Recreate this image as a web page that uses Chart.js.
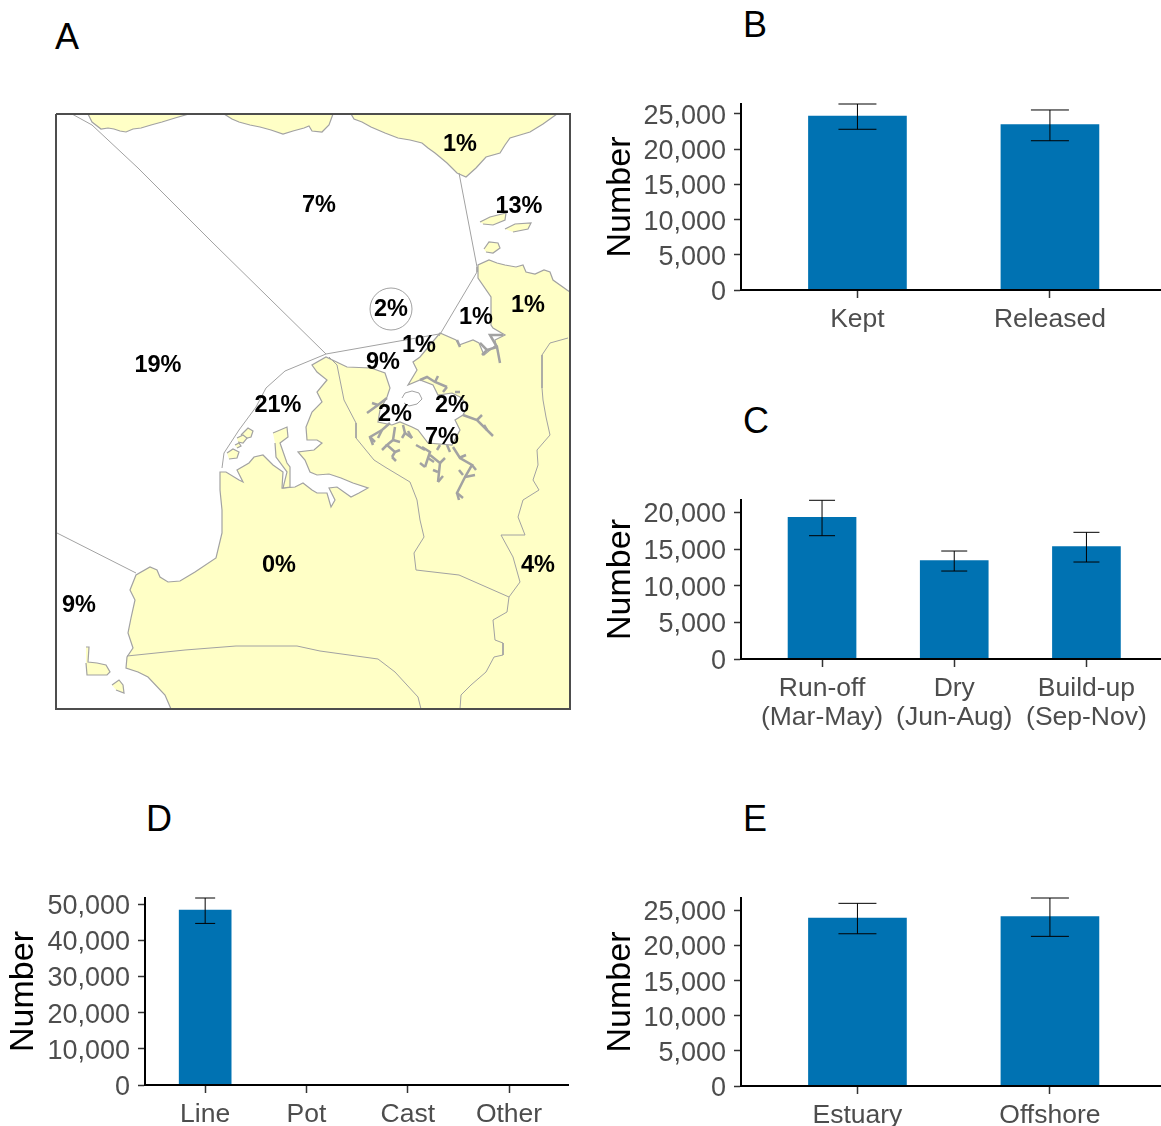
<!DOCTYPE html>
<html>
<head>
<meta charset="utf-8">
<script src="https://cdn.jsdelivr.net/npm/chart.js@4/dist/chart.umd.min.js"></script>
<style>
  html, body { margin: 0; padding: 0; background: #fff; }
  body { position: relative; width: 1161px; height: 1126px; overflow: hidden; }
  canvas { position: absolute; }
  .letter { position: absolute; font: 36px/36px "Liberation Sans", Arial, sans-serif; color: #000; }
</style>
</head>
<body>
<div class="letter" style="left:55px;top:19px">A</div>
<div class="letter" style="left:743px;top:7px">B</div>
<div class="letter" style="left:743px;top:403px">C</div>
<div class="letter" style="left:146px;top:801px">D</div>
<div class="letter" style="left:743px;top:801px">E</div>

<canvas id="mapA" width="526" height="607" style="left:50px;top:108px"></canvas>
<canvas id="barB" width="561" height="250" style="left:600px;top:95px"></canvas>
<canvas id="barC" width="561" height="250" style="left:600px;top:490px"></canvas>
<canvas id="barD" width="569" height="241" style="left:0;top:885px"></canvas>
<canvas id="barE" width="561" height="241" style="left:600px;top:885px"></canvas>

<script>
// panel B - fate
const fateCats = ["Kept", "Released"];
const fateVals = [24700, 23480];
const fateHi = [26420, 25570];
const fateLo = [22830, 21200];
const fateTicks = [0, 5000, 10000, 15000, 20000, 25000];

// panel C - season
const seasonCats = [["Run-off", "(Mar-May)"], ["Dry", "(Jun-Aug)"], ["Build-up", "(Sep-Nov)"]];
const seasonVals = [19330, 13410, 15320];
const seasonHi = [21650, 14730, 17280];
const seasonLo = [16820, 12000, 13230];
const seasonTicks = [0, 5000, 10000, 15000, 20000];

// panel D - gear
const gearCats = ["Line", "Pot", "Cast", "Other"];
const gearVals = [48340, 0, 0, 0];
const gearHi = [51660, 0, 0, 0];
const gearLo = [44640, 0, 0, 0];
const gearTicks = [0, 10000, 20000, 30000, 40000, 50000];

// panel E - area
const areaCats = ["Estuary", "Offshore"];
const areaVals = [23910, 24100];
const areaHi = [26000, 26760];
const areaLo = [21670, 21300];
const areaTicks = [0, 5000, 10000, 15000, 20000, 25000];

// panel A - map in map units
const mapPctText = ["1%", "7%", "13%", "2%", "1%", "1%", "1%", "9%", "19%", "21%", "2%", "2%", "7%", "0%", "4%", "9%"];
const mapPctX = [460, 319, 519, 391, 476, 528, 419, 383, 158, 278, 395, 452, 442, 279, 538, 79];
const mapPctY = [145, 206, 207, 310, 318, 306, 346, 363, 366, 406, 415, 406, 438, 566, 566, 606];

const landMain = [[171,709],[165,695],[148,677],[138,672],[126,668],[127,657],[133,648],[128,633],[131,618],[135,600],[130,590],[136,575],[150,567],[157,570],[160,577],[168,582],[180,581],[195,572],[216,558],[222,533],[222,510],[220,490],[220,472],[226,472],[239,480],[243,482],[237,470],[249,463],[254,457],[263,455],[273,465],[283,472],[282,488],[295,487],[303,483],[312,490],[317,493],[327,493],[331,507],[335,500],[329,488],[337,487],[351,497],[359,493],[368,488],[353,483],[341,478],[329,474],[317,475],[310,472],[305,460],[298,452],[314,450],[322,443],[317,440],[307,440],[306,427],[312,412],[322,402],[317,392],[327,380],[317,372],[312,365],[326,357],[347,367],[371,368],[385,373],[390,388],[387,397],[380,410],[378,422],[392,425],[400,422],[412,427],[418,430],[428,443],[452,445],[460,430],[455,420],[463,415],[468,405],[460,397],[452,393],[438,395],[433,385],[420,380],[408,385],[417,370],[413,362],[420,357],[440,333],[456,340],[459,345],[473,340],[479,343],[484,355],[496,345],[495,340],[505,335],[493,328],[491,325],[491,297],[478,278],[478,265],[489,260],[497,263],[505,265],[516,267],[523,265],[526,272],[535,274],[544,270],[550,272],[553,280],[567,290],[570,292],[570,709]];
const landNorthA = [[88,114],[92,122],[101,129],[108,128],[114,129],[120,131],[126,132],[133,129],[141,128],[151,125],[162,122],[175,118],[189,114]];
const landNorthB = [[224,114],[232,119],[239,122],[250,125],[260,127],[271,130],[283,134],[293,131],[304,128],[309,126],[312,131],[322,132],[329,125],[333,114]];
const landNorthC = [[351,114],[354,119],[362,122],[371,127],[385,133],[398,138],[410,140],[422,143],[428,148],[435,153],[447,163],[457,173],[466,177],[476,168],[486,157],[500,153],[505,145],[510,138],[520,135],[530,132],[543,124],[557,114]];
const islandsYellow = [
  [[480,222],[490,217],[506,213],[505,220],[493,225],[483,224]],
  [[505,229],[515,224],[531,223],[528,229],[513,232]],
  [[484,249],[489,242],[498,243],[500,248],[493,253],[486,252]],
  [[241,435],[248,428],[253,431],[251,437],[244,439]],
  [[237,438],[243,435],[247,438],[243,443],[238,442]],
  [[235,445],[239,443],[241,446],[237,448]],
  [[227,453],[233,449],[239,452],[237,458],[229,459]],
  [[273,433],[287,427],[288,437],[280,443],[287,463],[290,467],[290,487],[283,488],[287,472],[276,457],[275,443]],
  [[86,647],[89,647],[88,662],[97,663],[106,665],[110,672],[107,675],[87,675],[86,663]],
  [[112,685],[119,680],[123,685],[124,693],[116,690]]
];
const harbourIsle = [[402,398],[405,393],[412,391],[419,393],[422,399],[417,404],[409,406],[404,403]];
const regionLines = [
  [[72,114],[92,125],[138,168],[212,242],[326,354]],
  [[459,173],[477,267],[477,272],[439,336]],
  [[439,334],[326,354],[285,371],[266,388],[256,407],[239,430],[224,453],[222,468]],
  [[57,533],[136,573]],
  [[127,656],[185,650],[236,646],[297,646],[320,651],[378,659],[395,672],[418,697],[421,709]],
  [[329,357],[337,365],[344,400],[356,423],[356,438],[374,460],[385,467],[410,482],[417,500],[420,520],[424,537],[414,553],[416,570],[459,575],[509,597]],
  [[568,338],[550,343],[542,355],[542,388],[543,400],[546,417],[550,435],[537,450],[538,465],[533,480],[539,490],[523,500],[518,517],[525,535],[501,535],[513,557],[520,582],[509,597],[507,612],[493,620],[495,640],[503,643],[503,655],[494,657],[486,672],[471,685],[461,695],[460,709]]
];
const creeks = [
  [[387,398],[378,405],[367,413]],
  [[378,405],[372,403]],
  [[390,423],[382,430],[370,437],[373,445]],
  [[382,430],[378,438]],
  [[370,437],[375,442]],
  [[395,427],[393,440],[387,445],[395,452],[392,457]],
  [[393,440],[400,442]],
  [[387,445],[382,450]],
  [[395,452],[400,450]],
  [[392,457],[396,461]],
  [[403,425],[405,433],[412,438]],
  [[405,433],[402,438]],
  [[412,438],[408,431]],
  [[422,447],[430,452],[428,458],[425,467]],
  [[416,445],[425,450]],
  [[428,458],[434,462]],
  [[425,467],[420,463]],
  [[430,455],[440,463],[438,482]],
  [[440,463],[445,458]],
  [[438,472],[433,470]],
  [[438,482],[443,476]],
  [[453,447],[460,458],[472,465],[465,477],[457,493],[463,498]],
  [[459,458],[466,455]],
  [[463,475],[459,470]],
  [[472,465],[476,470]],
  [[457,493],[459,500]],
  [[465,477],[475,475]],
  [[463,415],[477,420],[487,430],[493,436]],
  [[477,420],[482,415]],
  [[487,430],[484,425]],
  [[420,380],[427,377],[435,382],[447,387]],
  [[435,382],[438,376]],
  [[447,387],[443,392]],
  [[455,392],[460,392]],
  [[440,445],[437,450]],
  [[447,445],[450,452]],
  [[457,340],[460,347]],
  [[480,343],[487,350],[482,355]],
  [[487,350],[497,347],[500,363]],
  [[497,347],[490,335],[503,335]]
];
const mapFrame = [[56,114],[570,114],[570,709],[56,709],[56,114]];
const circleZone = [[391, 309]];

const FONT = '"Liberation Sans", Arial, sans-serif';
const toXY = pts => pts.map(p => ({ x: p[0], y: p[1] }));

// percent labels on the map
const pctLabels = {
  id: "pctLabels",
  afterDatasetsDraw(chart) {
    const { ctx, scales } = chart;
    ctx.save();
    ctx.font = "bold 23.5px " + FONT;
    ctx.fillStyle = "#000";
    ctx.textAlign = "center";
    ctx.textBaseline = "middle";
    mapPctText.forEach((t, i) => {
      ctx.fillText(t, scales.x.getPixelForValue(mapPctX[i]), scales.y.getPixelForValue(mapPctY[i]));
    });
    ctx.restore();
  }
};

const GREY = "#a2a2a2";
const LAND = "#ffffc6";
const mapSets = [];
function shape(pts, bg, bw) {
  mapSets.push({ data: toXY(pts), showLine: true, fill: "shape", backgroundColor: bg, borderColor: GREY, borderWidth: bw, pointRadius: 0 });
}
function path(pts, color, bw) {
  mapSets.push({ data: toXY(pts), showLine: true, fill: false, borderColor: color, borderWidth: bw, pointRadius: 0 });
}
shape(landMain, LAND, 1.2);
shape(landNorthA, LAND, 1.2);
shape(landNorthB, LAND, 1.2);
shape(landNorthC, LAND, 1.2);
islandsYellow.forEach(p => shape(p, LAND, 1.2));
regionLines.forEach(p => path(p, GREY, 1));
creeks.forEach(p => path(p, GREY, 2.5));
shape(harbourIsle, "#fff", 1);
mapSets.push({ data: toXY(circleZone), pointRadius: 21, pointBackgroundColor: "rgba(255,255,255,0)", pointBorderColor: GREY, pointBorderWidth: 1 });
mapSets.push({ data: toXY(mapFrame), showLine: true, fill: false, borderColor: "#4d4d4d", borderWidth: 2, pointRadius: 0, clip: false });
// first in the array has to be painted first
mapSets.forEach((d, i) => { d.order = mapSets.length - i; });

new Chart(document.getElementById("mapA"), {
  type: "scatter",
  data: { datasets: mapSets },
  options: {
    responsive: false,
    animation: false,
    layout: { padding: 6, autoPadding: false },
    plugins: { legend: { display: false }, tooltip: { enabled: false } },
    scales: {
      x: { type: "linear", min: 56, max: 570, display: false },
      y: { type: "linear", min: 114, max: 709, reverse: true, display: false }
    }
  },
  plugins: [pctLabels]
});

function barPanel(id, cats, vals, hi, lo, ticks, o) {
  const sets = [{
    type: "bar",
    data: vals.map((v, i) => ({ x: i + 1, y: v })),
    backgroundColor: "#0072b2",
    barThickness: o.barW,
    order: 2
  }];
  hi.forEach((h, i) => {
    if (!h) return;
    sets.push({
      type: "scatter",
      data: [{ x: i + 1, y: lo[i] }, { x: i + 1, y: h }],
      showLine: true,
      borderColor: "#000",
      borderWidth: 1,
      pointStyle: "line",
      pointRadius: o.capR,
      pointBorderColor: "#000",
      pointBorderWidth: 1,
      clip: false,
      order: 1
    });
  });
  new Chart(document.getElementById(id), {
    data: { datasets: sets },
    options: {
      responsive: false,
      animation: false,
      layout: { autoPadding: false, padding: { top: o.padTop, left: 0, right: 0, bottom: 0 } },
      plugins: { legend: { display: false }, tooltip: { enabled: false } },
      scales: {
        x: {
          type: "linear",
          offset: false,
          min: o.xMin,
          max: o.xMax,
          afterBuildTicks: s => { s.ticks = cats.map((c, i) => ({ value: i + 1 })); },
          // axis box is fixed so the plot lands where the picture has it
          afterFit: s => { s.height = o.bottom; s.paddingLeft = 0; s.paddingRight = 0; },
          grid: { display: true, offset: false, drawOnChartArea: false, tickLength: 8, tickWidth: 1.5, tickColor: "#333" },
          border: { display: true, color: "#000", width: 2, z: 1 },
          ticks: {
            autoSkip: false,
            maxRotation: 0,
            padding: 7,
            color: "#4d4d4d",
            font: { family: FONT, size: 26.5, lineHeight: 1.1 },
            callback: v => cats[v - 1]
          }
        },
        y: {
          type: "linear",
          min: 0,
          max: o.yMax,
          afterBuildTicks: s => { s.ticks = ticks.map(t => ({ value: t })); },
          afterFit: s => { s.width = o.left; s.paddingTop = 0; s.paddingBottom = 0; },
          grid: { display: true, drawOnChartArea: false, tickLength: 7, tickWidth: 1.5, tickColor: "#333" },
          border: { display: true, color: "#000", width: 2, z: 1 },
          title: { display: true, text: "Number", color: "#000", padding: o.titlePad, font: { family: FONT, size: 34 } },
          ticks: {
            autoSkip: false,
            padding: 8,
            labelOffset: 2.5,
            color: "#4d4d4d",
            font: { family: FONT, size: 27 },
            callback: v => v.toLocaleString("en-US")
          }
        }
      }
    }
  });
}

barPanel("barB", fateCats, fateVals, fateHi, fateLo, fateTicks,
  { left: 141, bottom: 55, padTop: 9, xMin: 0.395, xMax: 2.577, yMax: 26420, barW: 98, capR: 19, titlePad: 0 });
barPanel("barC", seasonCats, seasonVals, seasonHi, seasonLo, seasonTicks,
  { left: 141, bottom: 81, padTop: 10, xMin: 0.387, xMax: 3.564, yMax: 21690, barW: 68, capR: 13, titlePad: 0 });
barPanel("barD", gearCats, gearVals, gearHi, gearLo, gearTicks,
  { left: 145, bottom: 41, padTop: 13, xMin: 0.406, xMax: 4.592, yMax: 51660, barW: 52, capR: 10, titlePad: 3 });
barPanel("barE", areaCats, areaVals, areaHi, areaLo, areaTicks,
  { left: 141, bottom: 40, padTop: 13, xMin: 0.395, xMax: 2.577, yMax: 26760, barW: 98, capR: 19, titlePad: 0 });
</script>
</body>
</html>
